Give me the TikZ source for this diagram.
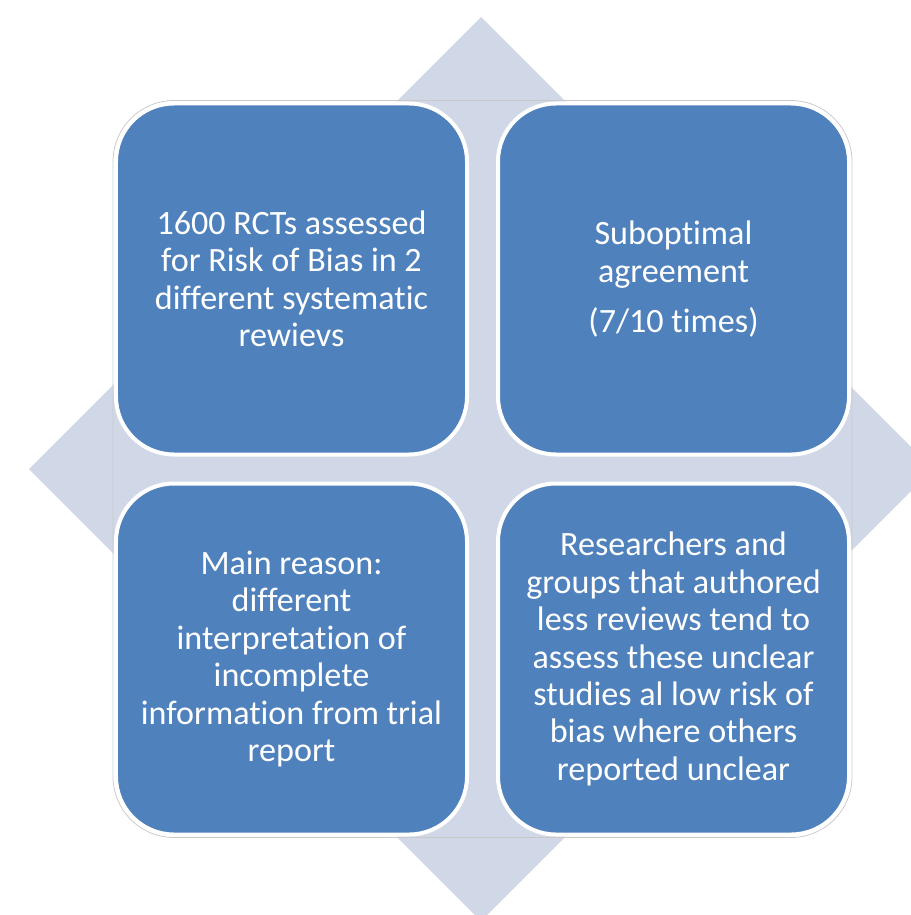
\documentclass[tikz,border=0pt]{standalone}
\usepackage{fontspec}
\setmainfont{Carlito}[Ligatures=NoCommon]
\usetikzlibrary{calc, positioning, backgrounds}
\definecolor{tileblue}{HTML}{4F81BD}
\definecolor{diamondfill}{HTML}{D0D8E8}
\definecolor{rimgray}{HTML}{C8C8C8}

\begin{document}
\begin{tikzpicture}[x=0.2mm, y=-0.2mm]
% TikZ styles
\tikzset{
  tile/.style={rectangle, draw=white, fill=tileblue, line width=0.8mm, rounded corners=11.6mm, minimum width=70.2mm, minimum height=70.2mm, inner sep=0pt, align=center, text=white, font=\fontsize{19.4}{21.3}\selectfont},
  rim/.style={draw=rimgray, line width=0.15mm, rounded corners=12.2mm},
  backdrop/.style={fill=diamondfill}
};
\useasboundingbox (0,0) rectangle (910,915);
\clip (0,0) rectangle (910,915);

%==========================
% Vier Kacheln
%==========================
\node[tile] (tl) at (291.5,279) {1600 RCTs assessed\\for Risk of Bias in 2\\different systematic\\rewievs};
\node[tile, right=5.4mm of tl] (tr) {Suboptimal\\agreement\\[7pt](7/10 times)};
\node[tile, below=5mm of tl] (bl) {Main reason:\\different\\interpretation of\\incomplete\\information from trial\\report};
\node[tile, below=5mm of tr] (br) {Researchers and\\groups that authored\\less reviews tend to\\assess these unclear\\studies al low risk of\\bias where others\\reported unclear};

%==========================
% Raute + Umrandung dahinter
%==========================
\begin{scope}[on background layer]
\coordinate (hub) at (481,469);
\fill[backdrop] ($(hub)+(0,-452)$) -- ($(hub)+(452,0)$) -- ($(hub)+(0,452)$) -- ($(hub)+(-452,0)$) -- cycle;
\draw[rim] ($(tl.north west)+(-1,-1)$) rectangle ($(br.south east)+(1,1)$);
\end{scope}
\end{tikzpicture}
\end{document}
